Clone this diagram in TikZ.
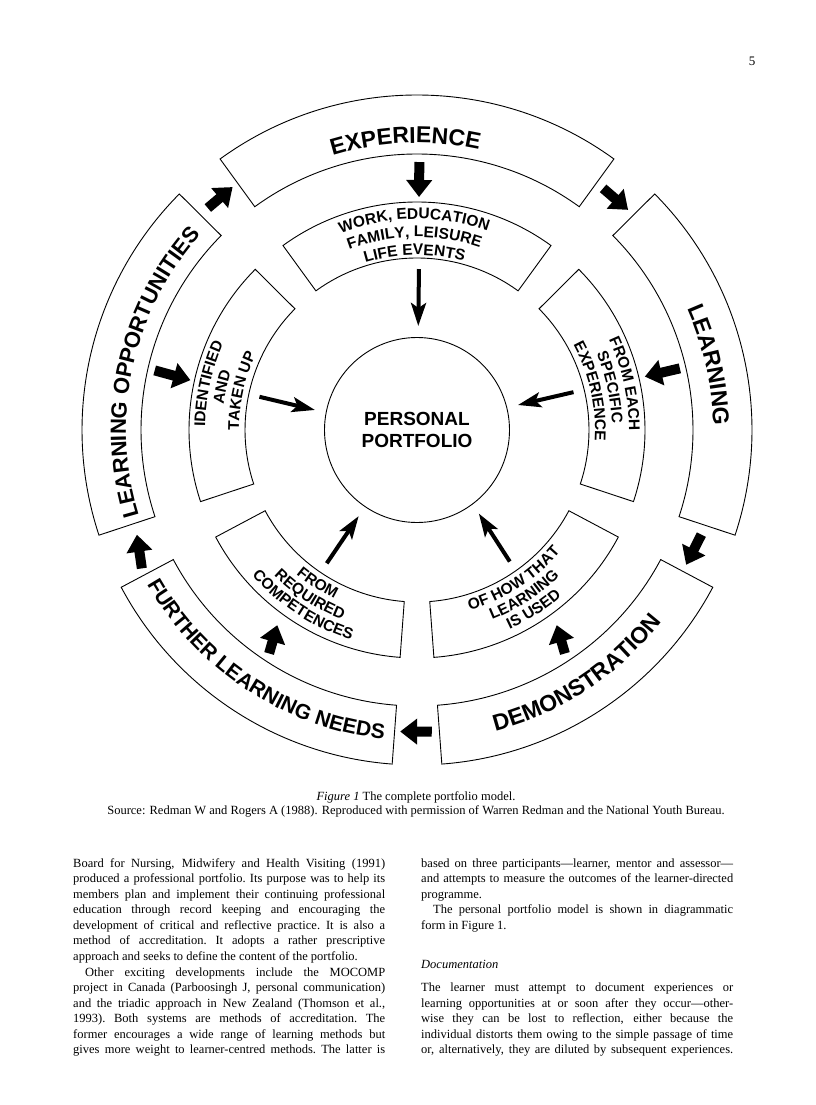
\documentclass[tikz,border=0pt]{standalone}
\usepackage{fontspec}
\setmainfont{Liberation Serif}
\setsansfont{Liberation Sans}
\usetikzlibrary{arrows.meta, decorations.text}

% one line of the page text, spread to the column width
\newcommand{\jline}[1]{\makebox[312pt][s]{\spaceskip=.25em plus 1em minus .08em\xspaceskip=\spaceskip\strut#1}}
\newcommand{\lline}[1]{\makebox[312pt][l]{\spaceskip=.25em\xspaceskip=\spaceskip\strut#1}}

\begin{document}
\begin{tikzpicture}[x=1pt, y=1pt,
  seg/.style={draw=black, line width=0.9pt},
  bigarr/.style={-{Triangle[length=17pt, width=25pt]}, line width=10pt},
  thinarr/.style={-{Stealth[length=23pt, width=15pt, inset=5pt]}, line width=4pt},
  ringtxt/.style 2 args={decorate, decoration={text along path, text align=center,
    text={|\sffamily\bfseries\fontsize{#1}{#1}\selectfont|#2}}},
  body/.style={anchor=north west, inner sep=0pt, text width=312pt,
    font=\fontsize{12.5}{15.55}\selectfont}
]
\useasboundingbox (0,0) rectangle (816,-1105);
\fill[white] (0,0) rectangle (816,-1105);

\node[anchor=base, font=\fontsize{13}{13}\selectfont] (pageno) at (752,-66) {5};

\begin{scope}[shift={(417,-430)}]
% outer ring and middle ring
\foreach \a/\b in {54/126, -18.3/44.8, -85.75/-28, 208/265.75, 135.2/198.3} {
  \draw[seg] (\a:276) arc[start angle=\a, end angle=\b, radius=276pt]
    -- (\b:335) arc[start angle=\b, end angle=\a, radius=335pt] -- cycle;
  \draw[seg] (\a:172) arc[start angle=\a, end angle=\b, radius=172pt]
    -- (\b:228) arc[start angle=\b, end angle=\a, radius=228pt] -- cycle;
}
\node[circle, draw, line width=0.9pt, minimum size=185pt, inner sep=0pt, align=center,
  font=\sffamily\bfseries\fontsize{19}{21.3}\selectfont] (port) at (0,0) {PERSONAL\\PORTFOLIO};

% outer labels
\path[ringtxt={23}{EXPERIENCE}] (127.3:287) arc[start angle=127.3, end angle=57.3, radius=287pt];
\path[ringtxt={23}{LEARNING}] (47.5:296) arc[start angle=47.5, end angle=-22.5, radius=296pt];
\path[ringtxt={22}{LEARNING OPPORTUNITIES}] (202.5:291) arc[start angle=202.5, end angle=132.5, radius=291pt];
\path[ringtxt={23}{DEMONSTRATION}] (-91.7:311) arc[start angle=-91.7, end angle=-21.7, radius=311pt];
\path[ringtxt={21}{FURTHER LEARNING NEEDS}] (201.8:311) arc[start angle=201.8, end angle=271.8, radius=311pt];

% middle labels
\path[ringtxt={15.5}{WORK, EDUCATION}] (130.8:211) arc[start angle=130.8, end angle=50.8, radius=211pt];
\path[ringtxt={15.5}{FAMILY, LEISURE}] (130.8:193) arc[start angle=130.8, end angle=50.8, radius=193pt];
\path[ringtxt={15.5}{LIFE EVENTS}] (130.8:175) arc[start angle=130.8, end angle=50.8, radius=175pt];
\path[ringtxt={15.5}{FROM EACH}] (52.5:212) arc[start angle=52.5, end angle=-27.5, radius=212pt];
\path[ringtxt={15.5}{SPECIFIC}] (52.5:195) arc[start angle=52.5, end angle=-27.5, radius=195pt];
\path[ringtxt={15.5}{EXPERIENCE}] (52.5:178) arc[start angle=52.5, end angle=-27.5, radius=178pt];
\path[ringtxt={15.5}{IDENTIFIED}] (207.5:212) arc[start angle=207.5, end angle=127.5, radius=212pt];
\path[ringtxt={15.5}{AND}] (207.5:195) arc[start angle=207.5, end angle=127.5, radius=195pt];
\path[ringtxt={15.5}{TAKEN UP}] (207.5:178) arc[start angle=207.5, end angle=127.5, radius=178pt];
\path[ringtxt={15.5}{FROM}] (197:188) arc[start angle=197, end angle=277, radius=188pt];
\path[ringtxt={15.5}{REQUIRED}] (197:204) arc[start angle=197, end angle=277, radius=204pt];
\path[ringtxt={15.5}{COMPETENCES}] (197:220) arc[start angle=197, end angle=277, radius=220pt];
\path[ringtxt={15.5}{OF HOW THAT}] (-97:188) arc[start angle=-97, end angle=-17, radius=188pt];
\path[ringtxt={15.5}{LEARNING}] (-97:204) arc[start angle=-97, end angle=-17, radius=204pt];
\path[ringtxt={15.5}{IS USED}] (-97:220) arc[start angle=-97, end angle=-17, radius=220pt];

% arrows round the outer ring
\foreach \n/\s/\e/\r/\q in {lo/133.3/127.2/305/305, ex/52.4/46.2/305/305,
    le/-20.2/-26.6/303/301, de/-87.2/-93.2/302/302, fu/206.7/200.5/308/299} {
  \coordinate (a\n) at (\s:\r);
  \coordinate (b\n) at (\e:\q);
  \draw[bigarr] (a\n) -- (b\n);
}
% arrows from outer to middle ring
\foreach \n/\s/\e/\r/\q in {ex/89.5/89.5/268/233, le/13.2/13.2/270/234,
    lo/167.2/167.6/269/232, de/-56.5/-54.4/268/240, fu/236.5/234.4/268/240} {
  \coordinate (c\n) at (\s:\r);
  \coordinate (d\n) at (\e:\q);
  \draw[bigarr] (c\n) -- (d\n);
}
% arrows into the portfolio
\foreach \n/\s/\e in {wo/89.3/89.3, fe/13.6/13.9, id/168.1/168.9,
    fr/235.9/235.9, of/-54.8/-53.5} {
  \coordinate (e\n) at (\s:161);
  \coordinate (f\n) at (\e:104);
  \draw[thinarr] (e\n) -- (f\n);
}
\end{scope}

% caption
\node[anchor=base, font=\fontsize{12.5}{14}\selectfont] (figcap) at (416,-800)
  {\textit{Figure 1} The complete portfolio model.};
\node[anchor=base, font=\fontsize{12.5}{14}\selectfont] (figsrc) at (416,-814)
  {Source: Redman W and Rogers A (1988). Reproduced with permission of Warren Redman and the National Youth Bureau.};

% page text
\node[body] (leftcol) at (73,-856.1) {%
\jline{Board for Nursing, Midwifery and Health Visiting (1991)}\\
\jline{produced a professional portfolio. Its purpose was to help its}\\
\jline{members plan and implement their continuing professional}\\
\jline{education through record keeping and encouraging the}\\
\jline{development of critical and reflective practice. It is also a}\\
\jline{method of accreditation. It adopts a rather prescriptive}\\
\lline{approach and seeks to define the content of the portfolio.}\\
\jline{\hspace*{12pt}Other exciting developments include the MOCOMP}\\
\jline{project in Canada (Parboosingh J, personal communication)}\\
\jline{and the triadic approach in New Zealand (Thomson et al.,}\\
\jline{1993). Both systems are methods of accreditation. The}\\
\jline{former encourages a wide range of learning methods but}\\
\jline{gives more weight to learner-centred methods. The latter is}};
\node[body] (rightcol) at (421,-856.1) {%
\jline{based on three participants---learner, mentor and assessor---}\\
\jline{and attempts to measure the outcomes of the learner-directed}\\
\lline{programme.}\\
\jline{\hspace*{12pt}The personal portfolio model is shown in diagrammatic}\\
\lline{form in Figure 1.}};
\node[anchor=base west, inner sep=0pt, font=\fontsize{12.5}{15.55}\selectfont\itshape] (dochead)
  at (421,-968.5) {Documentation};
\node[body] (doctext) at (421,-980.5) {%
\jline{The learner must attempt to document experiences or}\\
\jline{learning opportunities at or soon after they occur---other-}\\
\jline{wise they can be lost to reflection, either because the}\\
\jline{individual distorts them owing to the simple passage of time}\\
\jline{or, alternatively, they are diluted by subsequent experiences.}};
\end{tikzpicture}
\end{document}
